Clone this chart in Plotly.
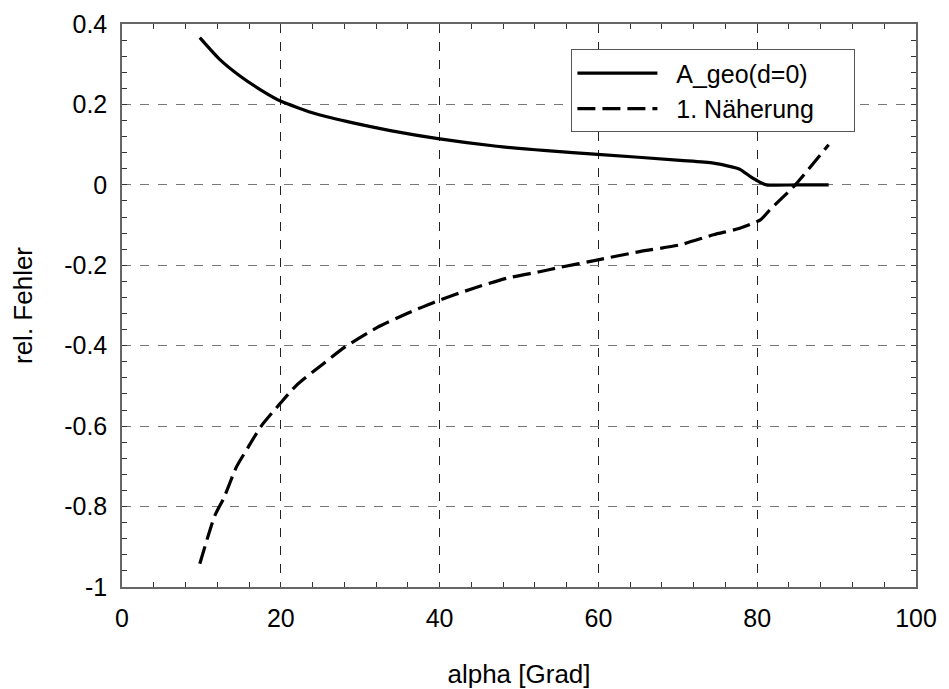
import plotly.graph_objects as go

# Data
alpha_geo = [9.8, 12.3, 14.9, 17.4, 19.9, 24.5, 29.1, 33.8, 39.8, 47.2, 53.5, 59.9, 70.3, 74.5, 77.8, 79.1, 80.4, 81.2, 85.0, 89.0]
err_geo = [0.366, 0.312, 0.270, 0.237, 0.209, 0.176, 0.154, 0.135, 0.115, 0.096, 0.085, 0.076, 0.061, 0.054, 0.039, 0.021, 0.006, 0.0, 0.0, 0.0]

alpha_approx = [9.8, 11.7, 12.8, 14.4, 15.9, 17.6, 19.9, 22.0, 25.4, 28.1, 32.1, 35.9, 39.8, 44.3, 48.5, 52.6, 55.2, 59.8, 65.2, 70.3, 74.5, 77.8, 80.4, 81.6, 84.8, 89.0]
err_approx = [-0.942, -0.822, -0.780, -0.702, -0.652, -0.598, -0.544, -0.498, -0.444, -0.403, -0.355, -0.320, -0.288, -0.257, -0.232, -0.216, -0.205, -0.187, -0.166, -0.149, -0.124, -0.108, -0.087, -0.062, 0.0, 0.100]

series_names = ["A_geo(d=0)", "1. Näherung"]

x_ticks = [0, 20, 40, 60, 80, 100]
y_ticks = [-1, -0.8, -0.6, -0.4, -0.2, 0, 0.2, 0.4]
y_ticklabels = ["-1", "-0.8", "-0.6", "-0.4", "-0.2", "0", "0.2", "0.4"]

font = "Liberation Sans, Arial, sans-serif"
lpad = "\u00a0\u00a0"
rpad = "\u00a0\u00a0\u00a0\u00a0\u00a0"

fig = go.Figure()
fig.add_trace(go.Scatter(x=alpha_geo, y=err_geo, mode="lines", name=lpad + series_names[0] + rpad,
                         line=dict(color="black", width=3.2, shape="spline", smoothing=0.6)))
fig.add_trace(go.Scatter(x=alpha_approx, y=err_approx, mode="lines", name=lpad + series_names[1] + rpad,
                         line=dict(color="black", width=3.2, dash="18px,7px", shape="spline", smoothing=0.6)))

axis_common = dict(
    showline=True, linecolor="#666", linewidth=1.5, mirror="allticks",
    ticks="inside", ticklen=5, tickcolor="#333", tickwidth=1,
    zeroline=False, showgrid=True, griddash="dash", gridwidth=1,
    tickfont=dict(family=font, size=25, color="black"),
)

fig.update_xaxes(**axis_common, range=[0, 100], tickvals=x_ticks, gridcolor="#222",
                 ticklabelstandoff=8, automargin=False,
                 minor=dict(dtick=4, ticks="inside", ticklen=5, tickcolor="#333", showgrid=False),
                 title=dict(text="alpha [Grad]", font=dict(family=font, size=26, color="black"), standoff=45))
fig.update_yaxes(**axis_common, range=[-1, 0.4], tickvals=y_ticks, ticktext=y_ticklabels, gridcolor="#777",
                 ticklabelstandoff=8, automargin=False,
                 minor=dict(dtick=0.04, ticks="inside", ticklen=5, tickcolor="#333", showgrid=False),
                 title=dict(text="rel. Fehler", font=dict(family=font, size=26, color="black"), standoff=24))

fig.update_layout(
    width=949, height=689,
    margin=dict(l=122, r=33, t=24, b=102),
    plot_bgcolor="white", paper_bgcolor="white",
    font=dict(family=font, size=25, color="black"),
    legend=dict(x=0.566, y=0.955, xanchor="left", yanchor="top",
                bordercolor="#555", borderwidth=1, bgcolor="white",
                itemwidth=80, font=dict(family=font, size=25, color="black"),
                tracegroupgap=0),
)

fig.write_html("out.html")
